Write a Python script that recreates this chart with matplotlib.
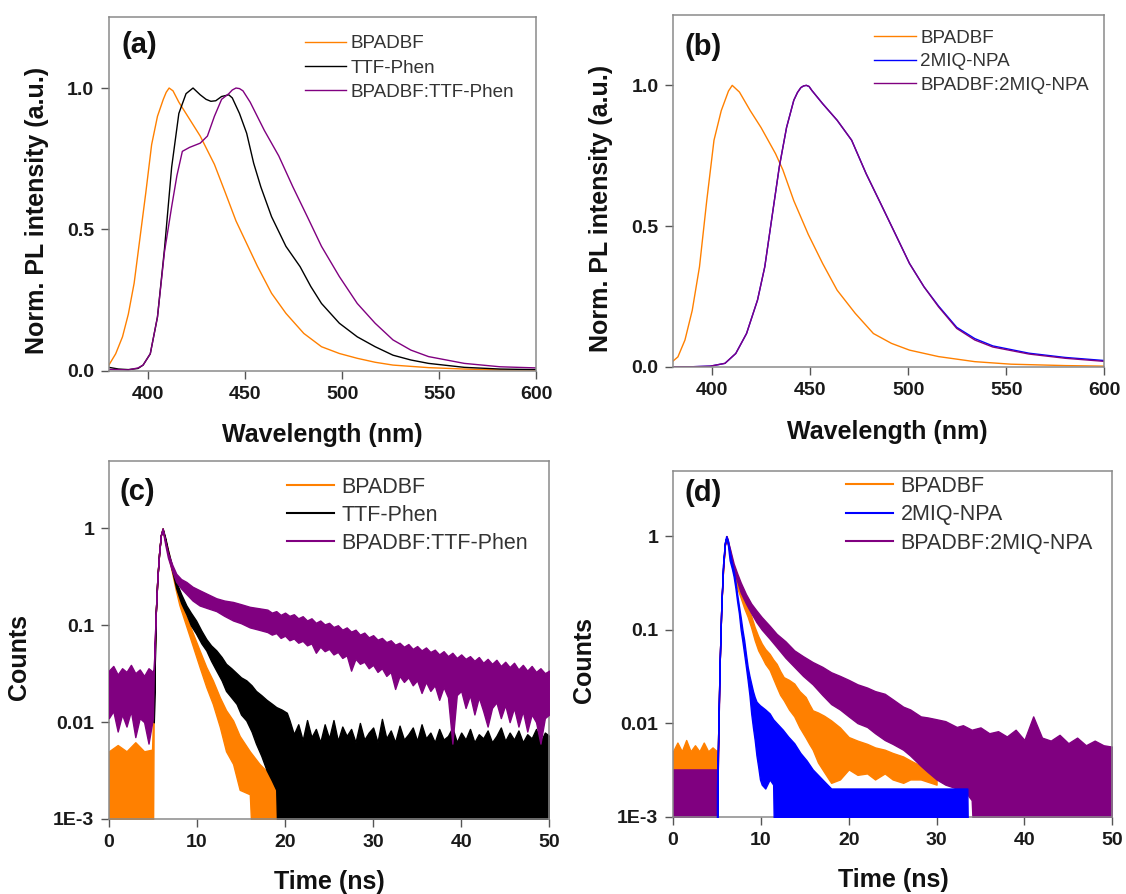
import numpy as np
import matplotlib
matplotlib.use("Agg")
import matplotlib.pyplot as plt
from matplotlib.ticker import FixedLocator, FixedFormatter

plt.rcParams['font.family'] = ['Liberation Sans', 'DejaVu Sans']

ORANGE = '#FF8000'
BLACK = '#000000'
PURPLE = '#800080'
BLUE = '#0000FF'

# ---------------- (a) PL spectra ----------------
wl_a_bp = [380, 383.5, 387, 390, 393, 396, 399, 402, 405, 408, 409.5, 411, 413, 416, 421.5, 427,
           434.3, 439.9, 445.4, 450.9, 456.4, 463.7, 471.1, 480.3, 489.4, 498.6, 507.8,
           517, 526.2, 544.5, 562.9, 580, 600]
pl_a_bp = [0.02, 0.06, 0.12, 0.2, 0.31, 0.47, 0.63, 0.8, 0.9, 0.96, 0.985, 1.0, 0.99, 0.95, 0.89,
           0.83, 0.73, 0.63, 0.53, 0.45, 0.37, 0.274, 0.203, 0.132, 0.085, 0.061, 0.044,
           0.03, 0.02, 0.011, 0.006, 0.003, 0.002]
wl_a_ttf = [380, 385, 390, 395, 397.6, 401.3, 405, 408.6, 412.3, 416, 419.7, 423.3, 427, 430,
            432.5, 435, 438, 441.7, 443.5, 447.2, 450.9, 454.5, 458.2, 463.7, 471.1, 478.4,
            483.9, 489.4, 498.6, 507.8, 517, 526.2, 535.4, 544.5, 562.9, 581.3, 600]
pl_a_ttf = [0.012, 0.006, 0.004, 0.008, 0.02, 0.06, 0.19, 0.43, 0.72, 0.91, 0.98, 1.0, 0.976, 0.96,
            0.953, 0.955, 0.97, 0.976, 0.965, 0.91, 0.84, 0.734, 0.65, 0.545, 0.44, 0.368,
            0.298, 0.238, 0.168, 0.12, 0.085, 0.055, 0.038, 0.026, 0.012, 0.006, 0.004]
wl_a_mix = [380, 385, 390, 395, 397.6, 401.3, 405, 408.6, 412.3, 415, 417.8, 421.5, 427, 430.7,
            434.3, 438, 441.7, 443.5, 445.4, 447.2, 449, 452.7, 460, 467.4, 474.7, 482.1, 489.4,
            498.6, 507.8, 517, 526.2, 535.4, 544.5, 562.9, 581.3, 600]
pl_a_mix = [0.005, 0.004, 0.003, 0.01, 0.02, 0.06, 0.19, 0.42, 0.58, 0.69, 0.776, 0.79, 0.805, 0.83,
            0.9, 0.96, 0.98, 0.993, 1.0, 0.998, 0.99, 0.95, 0.85, 0.76, 0.65, 0.545, 0.44,
            0.333, 0.238, 0.168, 0.109, 0.073, 0.05, 0.026, 0.014, 0.01]

# ---------------- (b) PL spectra ----------------
wl_b_bp = [380, 382.5, 386.1, 389.8, 393.5, 397.2, 400.9, 404.6, 408.3, 410.2, 413.9, 419.4,
           424.9, 432.3, 436, 441.6, 449, 456.3, 463.7, 472.9, 482.2, 491.4, 500.6, 515.4,
           533.9, 552.4, 580, 600]
pl_b_bp = [0.02, 0.035, 0.095, 0.2, 0.355, 0.59, 0.805, 0.91, 0.98, 1.0, 0.976, 0.91,
           0.85, 0.757, 0.7, 0.59, 0.47, 0.367, 0.272, 0.19, 0.118, 0.083, 0.059, 0.036,
           0.018, 0.009, 0.004, 0.002]
wl_b_2m = [380, 390, 399, 406.5, 412, 417.5, 423.1, 426.8, 430.5, 434.2, 437.9, 441.6, 443.5,
           445.2, 446.6, 448, 449.4, 450.8, 456.3, 463.7, 471.1, 478.5, 485.9, 493.3, 500.6,
           508, 515.4, 524.7, 533.9, 543.1, 561.6, 580, 600]
pl_b_2m = [0.0, 0.0, 0.002, 0.012, 0.047, 0.118, 0.237, 0.355, 0.533, 0.71, 0.85, 0.947, 0.975,
           0.992, 0.998, 1.0, 0.996, 0.982, 0.935, 0.876, 0.805, 0.686, 0.58, 0.473, 0.367,
           0.284, 0.216, 0.14, 0.1, 0.074, 0.048, 0.033, 0.022]
wl_b_mix = wl_b_2m
pl_b_mix = [0.0, 0.0, 0.002, 0.012, 0.047, 0.118, 0.237, 0.355, 0.533, 0.71, 0.85, 0.947, 0.975,
            0.992, 0.998, 1.0, 0.996, 0.982, 0.935, 0.876, 0.805, 0.686, 0.58, 0.473, 0.367,
            0.284, 0.213, 0.136, 0.095, 0.07, 0.045, 0.03, 0.019]

# ---------------- (c) TRPL (upper / lower envelopes of the noisy traces) ----------------
t_c_bp = [0, 1, 2, 3, 4, 4.9, 5.1, 5.3, 5.5, 5.7, 5.9, 6.1, 6.4, 6.8, 7.2, 7.6, 8.0, 8.8, 9.55,
          10.3, 11.06, 11.8, 12.6, 13.3, 14.1, 14.85, 16.0, 17.1, 18.6, 20.2, 21.0]
hi_c_bp = [0.005, 0.0058, 0.005, 0.0062, 0.005, 0.0052, 0.02, 0.12, 0.3, 0.55, 0.85, 1.0, 0.78,
           0.55, 0.38, 0.27, 0.195, 0.122, 0.082, 0.055, 0.037, 0.027, 0.018, 0.0133, 0.0104,
           0.0072, 0.005, 0.0037, 0.0027, 0.0021, 0.002]
lo_c_bp = [0, 0, 0, 0, 0, 0, 0.02, 0.12, 0.3, 0.55, 0.85, 0.97, 0.72, 0.5, 0.34, 0.23, 0.162,
           0.097, 0.06, 0.037, 0.023, 0.0154, 0.0089, 0.005, 0.0037, 0.002, 0.0018, 0, 0, 0, 0]

t_c_ttf = [5.1, 5.3, 5.5, 5.7, 5.9, 6.1, 6.4, 6.7, 7.2, 7.65, 8.2, 8.8, 9.3, 9.9, 10.5, 11.06,
           11.6, 12.2, 12.8, 13.3, 13.9, 14.5, 15.0, 15.6, 16.2, 16.7, 17.3, 17.9, 18.5, 19.0,
           19.6, 20.2, 20.5, 21, 21.5, 22, 22.5, 23, 23.5, 24, 24.5, 25, 25.5, 26, 26.5, 27,
           27.5, 28, 28.5, 29, 29.5, 30, 30.5, 31, 31.5, 32, 32.5, 33, 33.5, 34, 34.5, 35,
           35.5, 36, 36.5, 37, 37.5, 38, 38.5, 39, 39.5, 40, 40.5, 41, 41.5, 42, 42.5, 43,
           43.5, 44, 44.5, 45, 45.5, 46, 46.5, 47, 47.5, 48, 48.5, 49, 49.5, 50]
hi_c_ttf = [0.01, 0.12, 0.3, 0.55, 0.85, 1.0, 0.8, 0.6, 0.4, 0.28, 0.21, 0.16, 0.135, 0.112,
            0.088, 0.072, 0.062, 0.055, 0.047, 0.04, 0.036, 0.032, 0.029, 0.027, 0.024, 0.021,
            0.019, 0.017, 0.0155, 0.0143, 0.0135, 0.0125, 0.0105, 0.0075, 0.0095, 0.0065,
            0.0105, 0.007, 0.0085, 0.0062, 0.0095, 0.0068, 0.0105, 0.0064, 0.009, 0.0072,
            0.0085, 0.0062, 0.0098, 0.0066, 0.0078, 0.0088, 0.0062, 0.0108, 0.0068, 0.0082,
            0.0062, 0.0092, 0.0066, 0.0075, 0.0088, 0.0064, 0.0095, 0.0068, 0.0078, 0.0062,
            0.0085, 0.0066, 0.0072, 0.0088, 0.0062, 0.0078, 0.0066, 0.0085, 0.0062, 0.0075,
            0.0068, 0.0082, 0.0062, 0.0072, 0.0088, 0.0064, 0.0078, 0.0066, 0.0082, 0.0062,
            0.0075, 0.0068, 0.0085, 0.0062, 0.0078, 0.0072]
lo_c_ttf = [0.01, 0.12, 0.3, 0.55, 0.85, 0.97, 0.76, 0.56, 0.36, 0.24, 0.17, 0.13, 0.1, 0.082,
            0.065, 0.055, 0.043, 0.034, 0.027, 0.021, 0.018, 0.0154, 0.012, 0.0104, 0.008,
            0.006, 0.0045, 0.0032, 0.0025, 0.002] + [0] * 62

t_c_mix = [0, 0.5, 1, 1.5, 2, 2.5, 3, 3.5, 4, 4.5, 5.0, 5.1, 5.3, 5.5, 5.7, 5.9, 6.1, 6.4, 6.7,
           7.2, 7.65, 8.2, 8.8, 9.5, 10.3, 11.2, 12.2, 13.1, 14.1, 15, 16, 17,
           18, 18.5, 19, 19.5, 20, 20.5, 21, 21.5, 22, 22.5, 23, 23.5, 24, 24.5, 25, 25.5,
           26, 26.5, 27, 27.5, 28, 28.5, 29, 29.5, 30, 30.5, 31, 31.5, 32, 32.5, 33, 33.5,
           34, 34.5, 35, 35.5, 36, 36.5, 37, 37.5, 38, 38.5, 39, 39.5, 40, 40.5, 41, 41.5,
           42, 42.5, 43, 43.5, 44, 44.5, 45, 45.5, 46, 46.5, 47, 47.5, 48, 48.5, 49, 49.5, 50]
hi_c_mix = [0.034, 0.038, 0.031, 0.036, 0.033, 0.039, 0.032, 0.035, 0.03, 0.036, 0.033, 0.035,
            0.12, 0.3, 0.55, 0.85, 1.0, 0.75, 0.56, 0.42, 0.34, 0.3, 0.28, 0.25, 0.23, 0.21,
            0.19, 0.18, 0.174, 0.165, 0.155, 0.15,
            0.145, 0.135, 0.14, 0.128, 0.135, 0.125, 0.13, 0.118, 0.124, 0.112, 0.118, 0.106,
            0.112, 0.102, 0.106, 0.096, 0.1, 0.09, 0.095, 0.086, 0.09, 0.08, 0.084, 0.075,
            0.079, 0.071, 0.074, 0.067, 0.07, 0.063, 0.066, 0.06, 0.064, 0.057, 0.061, 0.055,
            0.059, 0.053, 0.056, 0.05, 0.054, 0.048, 0.052, 0.046, 0.05, 0.045, 0.048, 0.043,
            0.047, 0.041, 0.045, 0.04, 0.044, 0.038, 0.042, 0.037, 0.041, 0.035, 0.039, 0.034,
            0.038, 0.033, 0.036, 0.032, 0.034]
lo_c_mix = [0.011, 0.013, 0.008, 0.012, 0.009, 0.013, 0.007, 0.011, 0.01, 0.006, 0.011, 0.035,
            0.12, 0.3, 0.55, 0.85, 0.97, 0.68, 0.5, 0.36, 0.28, 0.24, 0.21, 0.18, 0.16, 0.15,
            0.14, 0.125, 0.112, 0.105, 0.095, 0.09,
            0.085, 0.08, 0.083, 0.074, 0.078, 0.07, 0.073, 0.066, 0.069, 0.062, 0.065, 0.052,
            0.06, 0.054, 0.057, 0.05, 0.053, 0.046, 0.049, 0.034, 0.045, 0.04, 0.042, 0.036,
            0.039, 0.033, 0.036, 0.03, 0.033, 0.022, 0.03, 0.026, 0.029, 0.024, 0.027, 0.02,
            0.026, 0.021, 0.024, 0.017, 0.023, 0.018, 0.006, 0.019, 0.021, 0.014, 0.019, 0.012,
            0.018, 0.013, 0.009, 0.014, 0.016, 0.011, 0.015, 0.01, 0.014, 0.009, 0.013, 0.008,
            0.012, 0.01, 0.006, 0.011, 0.012]

# ---------------- (d) TRPL ----------------
t_d_bp = [0, 0.5, 1, 1.5, 2, 2.5, 3, 3.5, 4, 4.5, 5.0, 5.1, 5.3, 5.5, 5.7, 5.9, 6.1, 6.5, 6.9,
          7.3, 7.7, 8.1, 8.5, 8.9, 9.3, 9.7, 10.1, 10.5, 11.0, 11.4, 11.8, 12.2, 12.6, 13.2,
          13.8, 14.4, 15.1, 15.5, 15.9, 16.5, 17.2, 18, 19, 20, 21, 22.1, 23, 24.1, 25, 26.2,
          27, 28.2, 30]
hi_d_bp = [0.005, 0.0062, 0.005, 0.0066, 0.005, 0.0058, 0.005, 0.0062, 0.005, 0.0055, 0.005,
           0.005, 0.04, 0.18, 0.45, 0.8, 1.0, 0.7, 0.46, 0.34, 0.26, 0.21, 0.175, 0.14, 0.106,
           0.085, 0.071, 0.062, 0.055, 0.048, 0.043, 0.036, 0.031, 0.029, 0.0265, 0.022, 0.019,
           0.016, 0.0137, 0.013, 0.012, 0.0107, 0.009, 0.0071, 0.0065, 0.006, 0.0055, 0.0052,
           0.0048, 0.0044, 0.004, 0.0035, 0.0032]
lo_d_bp = [0.003, 0.0028, 0.003, 0.0025, 0.003, 0.0028, 0.003, 0.0022, 0.003, 0.0028, 0.003,
           0.005, 0.04, 0.18, 0.45, 0.8, 0.97, 0.62, 0.4, 0.28, 0.22, 0.17, 0.137, 0.105, 0.077,
           0.06, 0.051, 0.043, 0.037, 0.03, 0.0244, 0.02, 0.0176, 0.014, 0.0118, 0.009, 0.007,
           0.006, 0.0052, 0.0038, 0.003, 0.0023, 0.0025, 0.0032, 0.0028, 0.0029, 0.0025, 0.0029,
           0.0025, 0.0023, 0.0025, 0.0025, 0.0022]

t_d_2m = [5.0, 5.1, 5.3, 5.5, 5.7, 5.9, 6.05, 6.25, 6.45, 6.7, 6.9, 7.1, 7.3, 7.5, 7.7, 7.9, 8.1,
          8.3, 8.5, 8.7, 8.9, 9.1, 9.3, 9.5, 9.7, 9.9, 10.1, 10.5, 11.0, 11.4, 11.8, 12.5, 13.1,
          13.8, 14.5, 15.2, 15.9, 17, 18, 20, 22, 24, 26, 28, 30, 32, 33.5, 33.8]
hi_d_2m = [0.002, 0.005, 0.04, 0.18, 0.5, 0.85, 1.0, 0.9, 0.7, 0.52, 0.43, 0.33, 0.24, 0.18,
           0.136, 0.1, 0.077, 0.055, 0.04, 0.032, 0.0265, 0.022, 0.019, 0.017, 0.0162, 0.0155,
           0.015, 0.014, 0.0127, 0.011, 0.01, 0.0085, 0.0072, 0.0061, 0.0048, 0.004, 0.0032,
           0.0025, 0.002, 0.002, 0.002, 0.002, 0.002, 0.002, 0.002, 0.002, 0.002, 0]
lo_d_2m = [0, 0.005, 0.04, 0.18, 0.5, 0.85, 0.95, 0.8, 0.55, 0.45, 0.37, 0.28, 0.2, 0.15, 0.1,
           0.075, 0.055, 0.04, 0.0287, 0.02, 0.0127, 0.009, 0.0066, 0.0045, 0.0034, 0.0025,
           0.0022, 0.002, 0.0025, 0.0022, 0, 0, 0, 0, 0, 0, 0, 0, 0, 0, 0, 0, 0, 0, 0, 0, 0, 0]

t_d_mix = [0, 0.5, 1, 1.5, 2, 2.5, 3, 3.5, 4, 4.5, 5.0, 5.1, 5.3, 5.5, 5.7, 5.9, 6.1, 6.5, 6.9,
           7.3, 7.7, 8.3, 8.9, 9.5, 10.1, 11, 11.8, 12.8, 13.8, 14.8, 15.9, 17, 18, 19, 20, 21,
           22.1, 23, 24.1, 25, 26.2, 27, 28.2, 29, 30, 31, 32.3, 33, 34, 35, 36, 37, 38, 39,
           40, 41, 42, 43, 44, 45, 46, 47, 48, 49, 50]
hi_d_mix = [0.0032] * 11 + [0.0032, 0.04, 0.18, 0.45, 0.8, 1.0, 0.72, 0.51, 0.4, 0.32, 0.24,
            0.19, 0.16, 0.136, 0.11, 0.09, 0.075, 0.06, 0.052, 0.045, 0.04, 0.035, 0.032,
            0.029, 0.026, 0.024, 0.022, 0.0206, 0.018, 0.015, 0.014, 0.0118, 0.0115, 0.011,
            0.0105, 0.0091, 0.0095, 0.0085, 0.009, 0.0078, 0.0082, 0.0072, 0.0085, 0.0066,
            0.0118, 0.007, 0.0065, 0.0075, 0.0061, 0.007, 0.0058, 0.0065, 0.0058, 0.0056]
lo_d_mix = [0] * 11 + [0.0032, 0.04, 0.18, 0.45, 0.8, 0.97, 0.65, 0.43, 0.33, 0.25, 0.19,
            0.15, 0.12, 0.1, 0.08, 0.065, 0.05, 0.04, 0.032, 0.026, 0.02, 0.016, 0.014,
            0.0118, 0.01, 0.0091, 0.0078, 0.0066, 0.006, 0.0052, 0.0045, 0.0035, 0.003, 0.0025,
            0.0022, 0.002, 0.002, 0.0015, 0, 0, 0, 0, 0, 0, 0, 0, 0, 0, 0, 0, 0, 0, 0, 0]

LOG_TICKS = [1e-3, 1e-2, 1e-1, 1]
LOG_LABELS = ['1E-3', '0.01', '0.1', '1']

fig = plt.figure(figsize=(11.26, 8.94), dpi=100)
ax_a = fig.add_axes([0.0967, 0.5853, 0.3797, 0.3953])
ax_b = fig.add_axes([0.5977, 0.5898, 0.3831, 0.3934])
ax_c = fig.add_axes([0.0967, 0.0839, 0.3911, 0.4008])
ax_d = fig.add_axes([0.5977, 0.0865, 0.3901, 0.3870])

TICKCOL = '#1a1a1a'
SPINECOL = '#8a8a8a'


def style(ax):
    for s in ax.spines.values():
        s.set_color(SPINECOL)
        s.set_linewidth(1.1)
    ax.tick_params(axis='both', which='major', direction='out', length=5.5, width=1.0,
                   color='#555555', labelsize=14, labelcolor=TICKCOL)
    ax.tick_params(axis='x', pad=5.5)
    ax.tick_params(axis='y', pad=5)
    ax.tick_params(which='minor', length=0)
    for lab in ax.get_xticklabels() + ax.get_yticklabels():
        lab.set_fontweight('bold')


def pl_axes(ax):
    ax.set_xlim(380, 600)
    ax.set_ylim(0, 1.25)
    ax.xaxis.set_major_locator(FixedLocator([400, 450, 500, 550, 600]))
    ax.xaxis.set_major_formatter(FixedFormatter(['400', '450', '500', '550', '600']))
    ax.yaxis.set_major_locator(FixedLocator([0, 0.5, 1.0]))
    ax.yaxis.set_major_formatter(FixedFormatter(['0.0', '0.5', '1.0']))
    style(ax)


def tr_axes(ax):
    ax.set_yscale('log')
    ax.set_xlim(0, 50)
    ax.set_ylim(1e-3, 5.0)
    ax.xaxis.set_major_locator(FixedLocator([0, 10, 20, 30, 40, 50]))
    ax.xaxis.set_major_formatter(FixedFormatter(['0', '10', '20', '30', '40', '50']))
    ax.yaxis.set_major_locator(FixedLocator(LOG_TICKS))
    ax.yaxis.set_major_formatter(FixedFormatter(LOG_LABELS))
    ax.yaxis.set_minor_locator(FixedLocator([]))
    style(ax)


def band(ax, t, lo, hi, color, z):
    lo = np.clip(np.asarray(lo, float), 1e-5, None)
    hi = np.clip(np.asarray(hi, float), 1e-5, None)
    ax.fill_between(t, lo, hi, facecolor=color, edgecolor=color, linewidth=1.0, zorder=z)


def labels(ax, xl, yl, xpos, ypos):
    ax.set_xlabel(xl, fontsize=18, fontweight='bold', color='#111111', va='center')
    ax.set_ylabel(yl, fontsize=18, fontweight='bold', color='#111111', va='center')
    ax.xaxis.set_label_coords(*xpos)
    ax.yaxis.set_label_coords(*ypos)


def legend(ax, anchor, fs, hl, pad, sp):
    leg = ax.legend(loc='upper left', bbox_to_anchor=anchor, frameon=False, fontsize=fs,
                    borderpad=0, borderaxespad=0, handlelength=hl, handletextpad=pad,
                    labelspacing=sp)
    for txt in leg.get_texts():
        txt.set_color('#333333')


# (a)
ax_a.plot(wl_a_bp, pl_a_bp, color=ORANGE, lw=1.0, label='BPADBF')
ax_a.plot(wl_a_ttf, pl_a_ttf, color=BLACK, lw=1.0, label='TTF-Phen')
ax_a.plot(wl_a_mix, pl_a_mix, color=PURPLE, lw=1.0, label='BPADBF:TTF-Phen')
pl_axes(ax_a)
labels(ax_a, 'Wavelength (nm)', 'Norm. PL intensity (a.u.)', (0.4985, -0.182), (-0.168, 0.4525))
legend(ax_a, (0.458, 0.950), 13.6, 2.2, 0.25, 0.38)
ax_a.text(0.029, 0.922, '(a)', transform=ax_a.transAxes, fontsize=21, fontweight='bold',
          va='center', ha='left', color='#111111')

# (b)
ax_b.plot(wl_b_bp, pl_b_bp, color=ORANGE, lw=1.0, label='BPADBF')
ax_b.plot(wl_b_2m, pl_b_2m, color=BLUE, lw=1.0, label='2MIQ-NPA')
ax_b.plot(wl_b_mix, pl_b_mix, color=PURPLE, lw=1.0, label='BPADBF:2MIQ-NPA')
pl_axes(ax_b)
labels(ax_b, 'Wavelength (nm)', 'Norm. PL intensity (a.u.)', (0.497, -0.185), (-0.166, 0.451))
legend(ax_b, (0.466, 0.958), 13.6, 2.2, 0.25, 0.33)
ax_b.text(0.027, 0.91, '(b)', transform=ax_b.transAxes, fontsize=21, fontweight='bold',
          va='center', ha='left', color='#111111')

# (c)
band(ax_c, t_c_bp, lo_c_bp, hi_c_bp, ORANGE, 1)
band(ax_c, t_c_ttf, lo_c_ttf, hi_c_ttf, BLACK, 2)
band(ax_c, t_c_mix, lo_c_mix, hi_c_mix, PURPLE, 3)
ax_c.plot([], [], color=ORANGE, lw=1.5, label='BPADBF')
ax_c.plot([], [], color=BLACK, lw=1.5, label='TTF-Phen')
ax_c.plot([], [], color=PURPLE, lw=1.5, label='BPADBF:TTF-Phen')
tr_axes(ax_c)
labels(ax_c, 'Time (ns)', 'Counts', (0.4997, -0.175), (-0.203, 0.453))
legend(ax_c, (0.4055, 0.955), 15.5, 2.15, 0.37, 0.32)
ax_c.text(0.024, 0.913, '(c)', transform=ax_c.transAxes, fontsize=21, fontweight='bold',
          va='center', ha='left', color='#111111')

# (d)
band(ax_d, t_d_bp, lo_d_bp, hi_d_bp, ORANGE, 1)
band(ax_d, t_d_mix, lo_d_mix, hi_d_mix, PURPLE, 2)
band(ax_d, t_d_2m, lo_d_2m, hi_d_2m, BLUE, 3)
ax_d.plot([], [], color=ORANGE, lw=1.5, label='BPADBF')
ax_d.plot([], [], color=BLUE, lw=1.5, label='2MIQ-NPA')
ax_d.plot([], [], color=PURPLE, lw=1.5, label='BPADBF:2MIQ-NPA')
tr_axes(ax_d)
labels(ax_d, 'Time (ns)', 'Counts', (0.501, -0.183), (-0.202, 0.453))
legend(ax_d, (0.3945, 0.985), 15.5, 2.15, 0.37, 0.34)
ax_d.text(0.026, 0.935, '(d)', transform=ax_d.transAxes, fontsize=21, fontweight='bold',
          va='center', ha='left', color='#111111')

fig.savefig('out.png', dpi=100, facecolor='white')
